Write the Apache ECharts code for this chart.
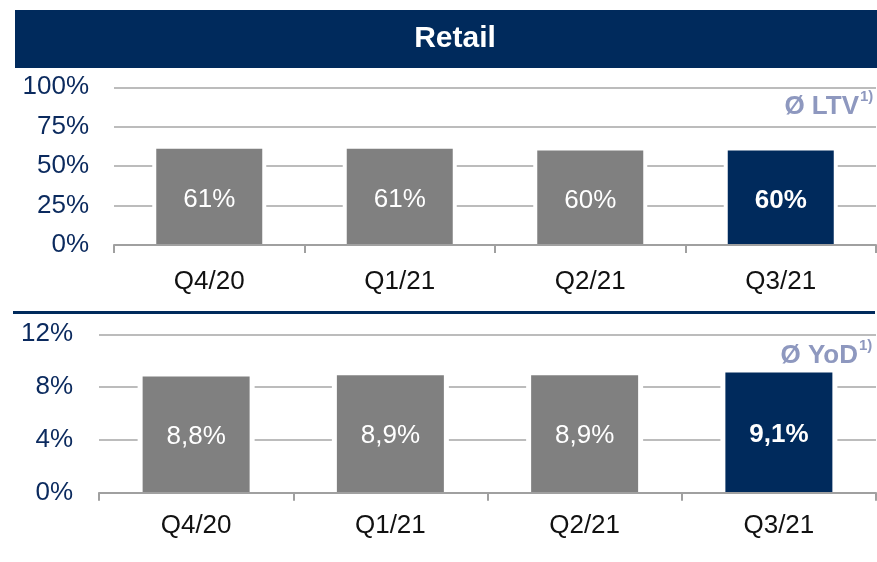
<!DOCTYPE html>
<html>
<head>
<meta charset="utf-8">
<script src="https://cdn.jsdelivr.net/npm/echarts@6/dist/echarts.min.js"></script>
<style>
html,body{margin:0;padding:0;background:#fff;}
#c{width:877px;height:562px;}
</style>
</head>
<body>
<div id="c"></div>
<script>
var categories = ['Q4/20', 'Q1/21', 'Q2/21', 'Q3/21'];
var ltvValues = [61, 61, 60, 60];
var yodValues = [8.8, 8.9, 8.9, 9.1];
var ltvTicks = [0, 25, 50, 75, 100];
var yodTicks = [0, 4, 8, 12];
var titleText = 'Retail';
var ltvTag = 'Ø LTV';
var yodTag = 'Ø YoD';
var footRef = '1)';

var NAVY = '#002A5C';
var GRAY = '#808080';
var GRID = '#A6A6A6';
var AXIS = '#A0A0A0';
var TAG = '#8E98BF';
var FONT = 'Arial, "Liberation Sans", sans-serif';

function barData(vals) {
  return vals.map(function (v, i) {
    var last = i === vals.length - 1;
    return {
      value: v,
      itemStyle: { color: last ? NAVY : GRAY },
      label: { fontWeight: last ? 'bold' : 'normal' }
    };
  });
}

var chart = echarts.init(document.getElementById('c'), null, { renderer: 'canvas' });

function xAxisCfg(grid, margin) {
  return {
    type: 'category',
    gridIndex: grid,
    data: categories,
    z: 5,
    axisLine: { show: true, lineStyle: { color: AXIS, width: 2 } },
    axisTick: { show: true, alignWithLabel: false, length: 8, lineStyle: { color: AXIS, width: 2 } },
    axisLabel: { color: '#111', fontSize: 26, fontFamily: FONT, margin: margin },
    splitLine: { show: false }
  };
}
function haloAxisCfg(grid) {
  return {
    type: 'category',
    gridIndex: grid,
    data: categories,
    show: false
  };
}

function yAxisCfg(grid, ticks, margin) {
  return {
    type: 'value',
    gridIndex: grid,
    min: ticks[0],
    max: ticks[ticks.length - 1],
    interval: ticks[1] - ticks[0],
    axisLine: { show: false },
    axisTick: { show: false },
    splitLine: { show: true, lineStyle: { color: GRID, width: 1.5 } },
    axisLabel: { color: '#0B2A5E', fontSize: 26, fontFamily: FONT, formatter: '{value}%', margin: margin }
  };
}

var labelCommon = {
  show: true,
  position: 'inside',
  color: '#fff',
  fontSize: 26,
  fontFamily: FONT
};

var option = {
  animation: false,
  backgroundColor: '#fff',
  grid: [
    { left: 114, right: 1, top: 87.3, bottom: 317 },
    { left: 99, right: 1, top: 334.3, bottom: 69.3 }
  ],
  xAxis: [
    xAxisCfg(0, 24),
    xAxisCfg(1, 20),
    haloAxisCfg(0),
    haloAxisCfg(1)
  ],
  yAxis: [
    yAxisCfg(0, ltvTicks, 25),
    yAxisCfg(1, yodTicks, 26)
  ],
  series: [
    {
      type: 'bar', z: 2,
      xAxisIndex: 2, yAxisIndex: 0,
      barWidth: 114,
      data: ltvValues,
      itemStyle: { color: '#fff' },
      silent: true
    },
    {
      type: 'bar', z: 2,
      xAxisIndex: 3, yAxisIndex: 1,
      barWidth: 117,
      data: yodValues,
      itemStyle: { color: '#fff' },
      silent: true
    },
    {
      type: 'bar', z: 3,
      xAxisIndex: 0, yAxisIndex: 0,
      barWidth: 106,
      data: barData(ltvValues),
      label: Object.assign({}, labelCommon, {
        offset: [0, 3],
        formatter: function (p) { return Math.round(p.value) + '%'; }
      })
    },
    {
      type: 'bar', z: 3,
      xAxisIndex: 1, yAxisIndex: 1,
      barWidth: 107,
      data: barData(yodValues),
      label: Object.assign({}, labelCommon, {
        offset: [0, 2],
        formatter: function (p) { return p.value.toFixed(1).replace('.', ',') + '%'; }
      })
    }
  ],
  graphic: [
    { type: 'rect', shape: { x: 15, y: 10, width: 862, height: 58 }, style: { fill: NAVY }, z: 1 },
    { type: 'text', z: 2, style: { x: 455, y: 39, text: titleText, fill: '#fff', font: 'bold 30px ' + FONT, textAlign: 'center', textVerticalAlign: 'middle' } },
    { type: 'rect', shape: { x: 13, y: 311, width: 862, height: 3 }, style: { fill: NAVY }, z: 1 },
    { type: 'text', z: 2, style: { x: 859, y: 106.5, text: ltvTag, fill: TAG, font: 'bold 26px ' + FONT, textAlign: 'right', textVerticalAlign: 'middle' } },
    { type: 'text', z: 2, style: { x: 860, y: 97, text: footRef, fill: TAG, font: 'bold 15px ' + FONT, textAlign: 'left', textVerticalAlign: 'middle' } },
    { type: 'text', z: 2, style: { x: 858, y: 355.5, text: yodTag, fill: TAG, font: 'bold 26px ' + FONT, textAlign: 'right', textVerticalAlign: 'middle' } },
    { type: 'text', z: 2, style: { x: 859, y: 346, text: footRef, fill: TAG, font: 'bold 15px ' + FONT, textAlign: 'left', textVerticalAlign: 'middle' } }
  ]
};

chart.setOption(option);
</script>
</body>
</html>
